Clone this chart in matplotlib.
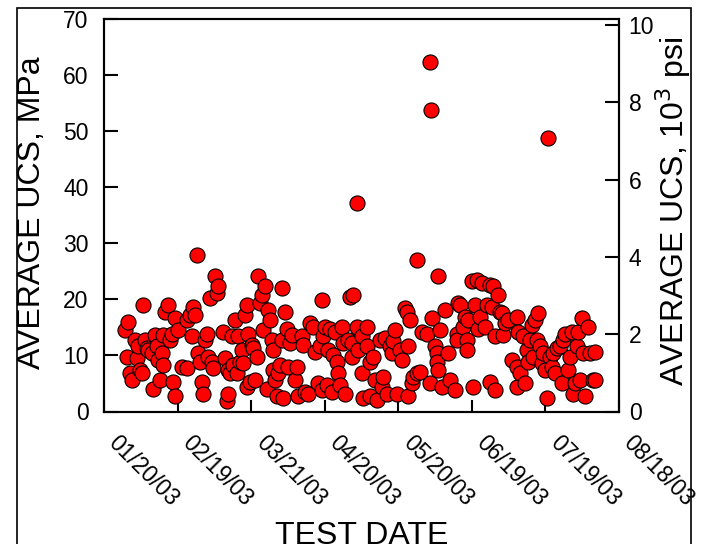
import datetime as dt
import matplotlib
matplotlib.use("Agg")
import matplotlib.pyplot as plt
import matplotlib.dates as mdates
from matplotlib.patches import Rectangle

plt.rcParams['font.family'] = ['Liberation Sans', 'DejaVu Sans']

# Días desde el 20/01/03 y resistencia promedio (MPa) de cada ensayo
test_day = [8.6, 9.9, 9.2, 10.6, 11.3, 12.6, 13.3, 14.0, 14.7, 15.4, 16.0, 16.7, 17.4, 18.1,
            19.4, 20.1, 20.8, 21.5, 22.2, 22.8, 23.5, 24.2, 24.2, 24.9, 26.2, 26.9, 27.6, 29.0,
            28.3, 29.0, 30.3, 31.7, 33.7, 33.7, 35.1, 36.4, 37.1, 35.8, 37.8, 38.5, 39.2, 39.8,
            40.5, 41.2, 41.9, 42.6, 43.2, 43.9, 44.6, 45.3, 45.9, 46.6, 48.7, 49.3, 50.0, 50.7,
            50.7, 51.4, 52.1, 52.7, 53.4, 54.1, 54.8, 55.5, 56.1, 56.8, 57.5, 58.2, 58.2, 58.9,
            59.5, 60.2, 60.9, 61.6, 62.3, 62.9, 63.6, 64.3, 65.0, 65.7, 66.3, 67.0, 67.7, 68.4,
            69.1, 69.1, 69.7, 70.4, 71.1, 71.8, 72.5, 72.5, 73.1, 73.8, 74.5, 75.2, 75.9, 76.5,
            77.9, 78.6, 79.3, 80.6, 81.3, 82.0, 83.3, 84.0, 85.4, 86.0, 87.4, 88.1, 88.8, 88.8,
            89.4, 90.1, 90.8, 91.5, 92.2, 92.8, 93.5, 94.2, 94.9, 95.6, 96.2, 96.9, 97.6, 98.3,
            99.6, 100.3, 101.7, 101.0, 101.0, 103.0, 103.7, 105.1, 105.1, 105.8, 103.0,
            107.1, 107.1, 108.5, 109.8, 110.5, 108.5, 111.2, 112.6, 113.2, 113.9, 114.6, 115.3,
            116.6, 117.3, 118.0, 118.7, 119.4, 120.7, 121.4, 122.8, 123.4, 124.1, 124.8, 124.1,
            125.5, 126.1, 127.5, 128.9, 127.5, 129.5, 131.6, 132.9, 133.6, 135.0, 135.7, 135.7,
            136.3, 136.3, 137.0, 137.7, 139.1, 140.4, 141.1, 143.1, 143.8, 143.8, 144.5, 145.2,
            146.5, 147.2, 147.9, 147.9, 148.6, 149.9, 150.6, 151.3, 152.0, 152.7, 153.3, 154.0,
            155.4, 156.1, 157.4, 157.4, 158.1, 158.8, 159.5, 159.5, 160.8, 161.5, 162.2, 162.9,
            163.5, 164.9, 166.2, 168.3, 168.3, 168.3, 169.0, 169.6, 171.0, 171.7, 172.4, 173.0,
            173.7, 174.4, 175.1, 175.8, 176.4, 177.1, 177.8, 178.5, 179.2, 179.8, 180.5, 181.9,
            182.6, 183.2, 183.9, 184.6, 186.0, 186.6, 187.3, 188.0, 189.4, 190.0, 190.7, 191.4,
            192.1, 192.8, 193.4, 194.1, 194.8, 195.5, 196.2, 197.5, 198.2, 199.6, 200.2, 200.2,
            133.1, 133.5, 181.1]
ucs_mpa = [14.5, 16.0, 9.8, 6.8, 5.6, 12.8, 9.5, 11.6, 7.4, 6.8, 19.0, 12.8, 11.3, 11.0,
           10.4, 4.1, 13.7, 11.6, 9.2, 5.6, 10.4, 8.3, 13.7, 17.8, 19.0, 12.8, 13.9, 16.6,
           5.3, 2.7, 14.5, 8.0, 7.7, 16.3, 17.2, 18.7, 17.2, 13.4, 27.9, 10.4, 8.9, 5.3,
           3.2, 12.8, 13.9, 9.8, 20.2, 8.9, 7.7, 24.1, 21.1, 22.3, 14.2, 9.5, 1.8, 3.2,
           7.4, 6.8, 13.4, 8.3, 16.3, 6.8, 13.4, 8.9, 11.0, 8.6, 17.2, 19.0, 4.4, 13.9,
           5.3, 11.9, 11.3, 5.6, 9.8, 24.1, 19.3, 20.8, 14.5, 22.3, 4.1, 18.1, 16.3, 12.8,
           11.0, 7.4, 5.6, 2.7, 6.8, 8.3, 22.0, 12.8, 2.4, 17.8, 14.8, 8.0, 12.2, 13.7,
           5.6, 8.0, 2.7, 13.4, 11.9, 3.5, 3.2, 15.7, 15.1, 10.7, 5.0, 11.6, 19.9, 3.8,
           13.4, 15.1, 4.7, 11.0, 14.8, 3.5, 10.1, 14.2, 8.9, 6.8, 4.7, 15.1, 12.2, 3.2,
           12.8, 20.5, 20.8, 9.8, 12.2, 15.1, 11.0, 13.4, 6.8, 2.4, 37.1,
           15.1, 11.6, 8.9, 9.8, 5.6, 2.7, 2.1, 12.8, 4.4, 6.2, 13.1, 3.2,
           11.6, 10.4, 12.5, 14.5, 3.2, 11.0, 9.2, 18.4, 17.8, 11.6, 16.3, 2.7,
           5.0, 6.2, 6.8, 7.1, 27.0, 14.2, 13.9, 5.0, 16.6, 11.6, 10.4, 8.9,
           7.4, 24.1, 14.5, 4.4, 18.1, 10.4, 5.6, 3.8, 13.9, 12.8, 19.3, 19.0,
           15.1, 16.9, 12.8, 11.0, 16.3, 23.2, 4.4, 19.0, 23.5, 14.8, 16.9, 22.9,
           15.1, 19.0, 22.6, 5.3, 18.7, 22.3, 13.4, 3.8, 20.8, 17.8, 17.5, 13.7,
           15.7, 16.3, 9.2, 16.9, 8.0, 4.4, 14.2, 6.8, 13.4, 5.0, 11.0, 8.9,
           12.8, 15.4, 9.8, 16.3, 12.8, 17.5, 11.6, 8.6, 10.4, 7.4, 2.4, 9.8,
           8.0, 10.4, 6.8, 11.3, 11.6, 5.0, 12.8, 13.9, 7.4, 9.8, 14.2, 3.2,
           5.0, 11.6, 14.2, 5.6, 16.6, 10.4, 2.7, 15.1, 10.4, 5.6, 10.7, 5.6,
           62.4, 53.7, 48.8]

fecha_inicio = dt.datetime(2003, 1, 20)
fecha_fin = dt.datetime(2003, 8, 18)
fechas_ticks = ['01/20/03', '02/19/03', '03/21/03', '04/20/03',
                '05/20/03', '06/19/03', '07/19/03', '08/18/03']
mpa_por_ksi = 6.895

x = [mdates.date2num(fecha_inicio) + d for d in test_day]

fig = plt.figure(figsize=(7.03, 5.44), dpi=100)
ax = fig.add_axes([104 / 703, 1 - 411.5 / 544, 515 / 703, 392.5 / 544])

ax.scatter(x, ucs_mpa, s=118, c='#ff0000', edgecolors='black', linewidths=0.8,
           zorder=3, clip_on=False)

# Eje X con fechas cada 30 días
ticks = [mdates.date2num(dt.datetime.strptime(f, '%m/%d/%y')) for f in fechas_ticks]
ax.set_xlim(mdates.date2num(fecha_inicio), mdates.date2num(fecha_fin))
ax.set_xticks(ticks)
ax.set_xticklabels(fechas_ticks, rotation=-45, ha='left', va='top', fontsize=16.5)

ax.set_ylim(0, 70)
ax.set_yticks(range(0, 71, 10))
ax.tick_params(axis='y', direction='in', length=10, width=1.5, labelsize=16.5, pad=11)
ax.tick_params(axis='x', direction='in', length=9, width=1.5, pad=14)
for s in ax.spines.values():
    s.set_linewidth(1.5)

# Eje derecho en 10^3 psi
ax2 = ax.twinx()
ax2.set_ylim(0, 70 / mpa_por_ksi)
ax2.set_yticks(range(0, 11, 2))
ax2.tick_params(axis='y', direction='in', length=10, width=1.5, labelsize=16.5, pad=7)
for s in ax2.spines.values():
    s.set_linewidth(1.5)

fig.text(40 / 703, 1 - 213 / 544, 'AVERAGE UCS, MPa', rotation=90, rotation_mode='anchor',
         ha='center', va='baseline', fontsize=23)
fig.text(684 / 703, 1 - 211 / 544, 'AVERAGE UCS, 10$^3$ psi', rotation=90,
         rotation_mode='anchor', ha='center', va='baseline', fontsize=23)
fig.text(362 / 703, 0.5 / 544, 'TEST DATE', ha='center', va='baseline', fontsize=23)

# Marco exterior de la figura
fig.patches.append(Rectangle((16.5 / 703, -0.05), 674 / 703, 0.05 + 1 - 7.5 / 544,
                             transform=fig.transFigure, fill=False, lw=1.2,
                             edgecolor='black'))

fig.savefig('out.png', dpi=100)
